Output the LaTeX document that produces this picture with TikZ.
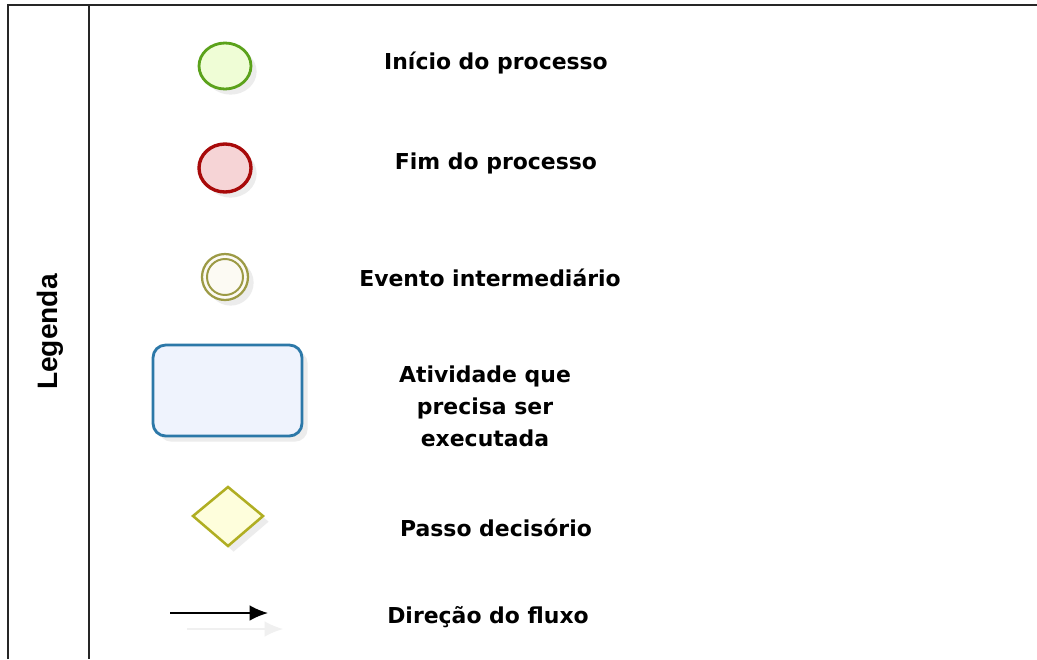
\documentclass[tikz,border=0pt]{standalone}
\usepackage{fontspec}
\setmainfont{DejaVu Sans}
\newfontfamily\legfont{Liberation Sans}
\usetikzlibrary{shadows,arrows.meta}
\definecolor{startline}{HTML}{5BA21B}
\definecolor{startfill}{HTML}{EFFDD6}
\definecolor{endline}{HTML}{A80A0A}
\definecolor{endfill}{HTML}{F6D4D6}
\definecolor{midline}{HTML}{9C9A45}
\definecolor{midfill}{HTML}{FCFAF3}
\definecolor{taskline}{HTML}{2C78A8}
\definecolor{taskfill}{HTML}{EFF3FD}
\definecolor{gateline}{HTML}{B0AE22}
\definecolor{gatefill}{HTML}{FEFEDC}
\tikzset{
	lbl/.style={font=\bfseries\fontsize{15.6}{22.8}\selectfont, align=center},
	shade/.style={drop shadow={opacity=0.15, shadow xshift=4pt, shadow yshift=-4pt}},
	frame/.style={line width=1.2pt, black!85}
}
\begin{document}
\begin{tikzpicture}[x=0.025cm, y=-0.025cm]
	\useasboundingbox (0,0) rectangle (1037,659);
	\fill[white] (0,0) rectangle (1037,659);
	%Rahmen
	\draw[frame] (8,659) -- (8,5) -- (1037,5);
	\draw[frame] (89,5) -- (89,659);
	\node[rotate=90, font=\legfont\bfseries\fontsize{20}{24}\selectfont] (leg) at (50,332) {Legenda};
	
	%Symbole
	\path[shade, draw=startline, line width=2pt, fill=startfill] (225,66) ellipse (26 and 23);
	\coordinate (start) at (225,66);
	\path[shade, draw=endline, line width=2.4pt, fill=endfill] (225,168) ellipse (26 and 24);
	\coordinate (end) at (225,168);
	\path[shade, draw=midline, line width=1.6pt, fill=midfill] (225,277) circle (23);
	\draw[midline, line width=1.4pt] (225,277) circle (18);
	\coordinate (mid) at (225,277);
	\path[shade, draw=taskline, line width=2pt, fill=taskfill, rounded corners=9] (153,345) rectangle (302,436);
	\coordinate (task) at (228,390);
	\path[shade, draw=gateline, line width=1.8pt, fill=gatefill] (193,516) -- (228,487) -- (263,516) -- (228,546) -- cycle;
	\coordinate (gate) at (228,516);
	
	%Pfeil
	\coordinate (a1) at (170,613);
	\coordinate (a2) at (268,613);
	\coordinate (s1) at (187,629);
	\coordinate (s2) at (283,629);
	\draw[black!6, line width=1.3pt, -{Latex[length=13pt, width=11pt]}] (s1) -- (s2);
	\draw[black, line width=1.3pt, -{Latex[length=13pt, width=11pt]}] (a1) -- (a2);
	
	%Texte
	\node[lbl] (t1) at (496,63) {Início do processo};
	\node[lbl] (t2) at (496,163) {Fim do processo};
	\node[lbl] (t3) at (490,278) {Evento intermediário};
	\node[lbl] (t4) at (485,406) {Atividade que\\precisa ser\\executada};
	\node[lbl] (t5) at (496,528) {Passo decisório};
	\node[lbl] (t6) at (488,617) {Direção do fluxo};
\end{tikzpicture}
\end{document}
